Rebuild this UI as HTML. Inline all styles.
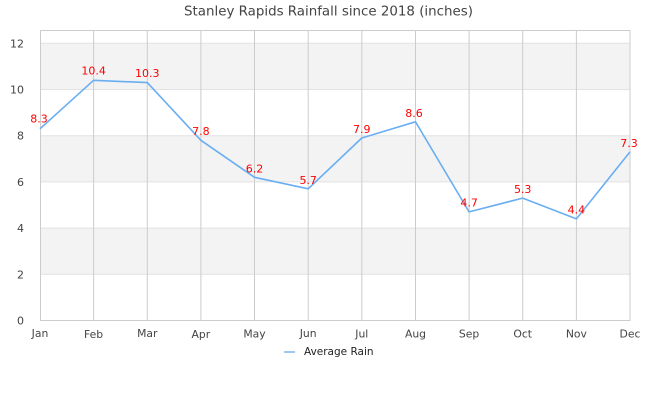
<!DOCTYPE html>
<html><head><meta charset="utf-8"><style>
html,body{margin:0;padding:0;background:#fff;}
svg{display:block;font-family:"DejaVu Sans","Liberation Sans",sans-serif;}
</style></head><body>
<svg width="660" height="400" viewBox="0 0 660 400" xmlns="http://www.w3.org/2000/svg">
<rect width="660" height="400" fill="#fff"/>
<text x="328.5" y="15.5" text-anchor="middle" font-size="13.4" fill="#444">Stanley Rapids Rainfall since 2018 (inches)</text>
<!-- bands -->
<g fill="#f3f3f3">
<rect x="40" y="43.3" width="590" height="46.2"/>
<rect x="40" y="135.7" width="590" height="46.2"/>
<rect x="40" y="228.1" width="590" height="46.2"/>
</g>
<g stroke="#e2e2e2" stroke-width="1">
<line x1="40" y1="43.3" x2="630" y2="43.3"/>
<line x1="40" y1="89.5" x2="630" y2="89.5"/>
<line x1="40" y1="135.7" x2="630" y2="135.7"/>
<line x1="40" y1="181.9" x2="630" y2="181.9"/>
<line x1="40" y1="228.1" x2="630" y2="228.1"/>
<line x1="40" y1="274.3" x2="630" y2="274.3"/>
</g>
<g stroke="#cccccc" stroke-width="1">
<line x1="93.6" y1="30.5" x2="93.6" y2="320.5"/>
<line x1="147.3" y1="30.5" x2="147.3" y2="320.5"/>
<line x1="200.9" y1="30.5" x2="200.9" y2="320.5"/>
<line x1="254.5" y1="30.5" x2="254.5" y2="320.5"/>
<line x1="308.2" y1="30.5" x2="308.2" y2="320.5"/>
<line x1="361.8" y1="30.5" x2="361.8" y2="320.5"/>
<line x1="415.5" y1="30.5" x2="415.5" y2="320.5"/>
<line x1="469.1" y1="30.5" x2="469.1" y2="320.5"/>
<line x1="522.7" y1="30.5" x2="522.7" y2="320.5"/>
<line x1="576.4" y1="30.5" x2="576.4" y2="320.5"/>
<rect x="40.5" y="30.5" width="589.5" height="290" fill="none"/>
</g>
<!-- y labels -->
<g font-size="11" fill="#444" text-anchor="end">
<text x="24" y="47.3">12</text>
<text x="24" y="93.5">10</text>
<text x="24" y="139.7">8</text>
<text x="24" y="185.9">6</text>
<text x="24" y="232.1">4</text>
<text x="24" y="278.3">2</text>
<text x="24" y="324.5">0</text>
</g>
<!-- x labels -->
<g font-size="10.8" fill="#444" text-anchor="middle">
<text x="40" y="337">Jan</text>
<text x="93.6" y="338">Feb</text>
<text x="147.3" y="337">Mar</text>
<text x="200.9" y="338">Apr</text>
<text x="254.5" y="337.5">May</text>
<text x="308.2" y="337">Jun</text>
<text x="361.8" y="337.5">Jul</text>
<text x="415.5" y="337.5">Aug</text>
<text x="469.1" y="337.5">Sep</text>
<text x="522.7" y="337.5">Oct</text>
<text x="576.4" y="337.5">Nov</text>
<text x="630" y="337.5">Dec</text>
</g>
<!-- series -->
<polyline fill="none" stroke="#6aaef2" stroke-width="1.6" stroke-linejoin="round" points="40,128.8 93.6,80.3 147.3,82.6 200.9,140.3 254.5,177.3 308.2,188.8 361.8,138.0 415.5,121.8 469.1,211.9 522.7,198.1 576.4,218.9 630,151.9"/>
<g font-size="11" fill="#ff0000" text-anchor="middle">
<text x="39" y="122.5">8.3</text>
<text x="93.6" y="74.5">10.4</text>
<text x="147.3" y="77">10.3</text>
<text x="200.9" y="135">7.8</text>
<text x="254.5" y="172.5">6.2</text>
<text x="308.2" y="184">5.7</text>
<text x="361.8" y="133">7.9</text>
<text x="414" y="117">8.6</text>
<text x="469.1" y="206.5">4.7</text>
<text x="522.7" y="193">5.3</text>
<text x="576.4" y="213.5">4.4</text>
<text x="629" y="147">7.3</text>
</g>
<!-- legend -->
<line x1="284" y1="352" x2="295" y2="352" stroke="#9ec9f5" stroke-width="2"/>
<text x="304" y="355" font-size="10.5" fill="#222">Average Rain</text>
</svg>
</body></html>
